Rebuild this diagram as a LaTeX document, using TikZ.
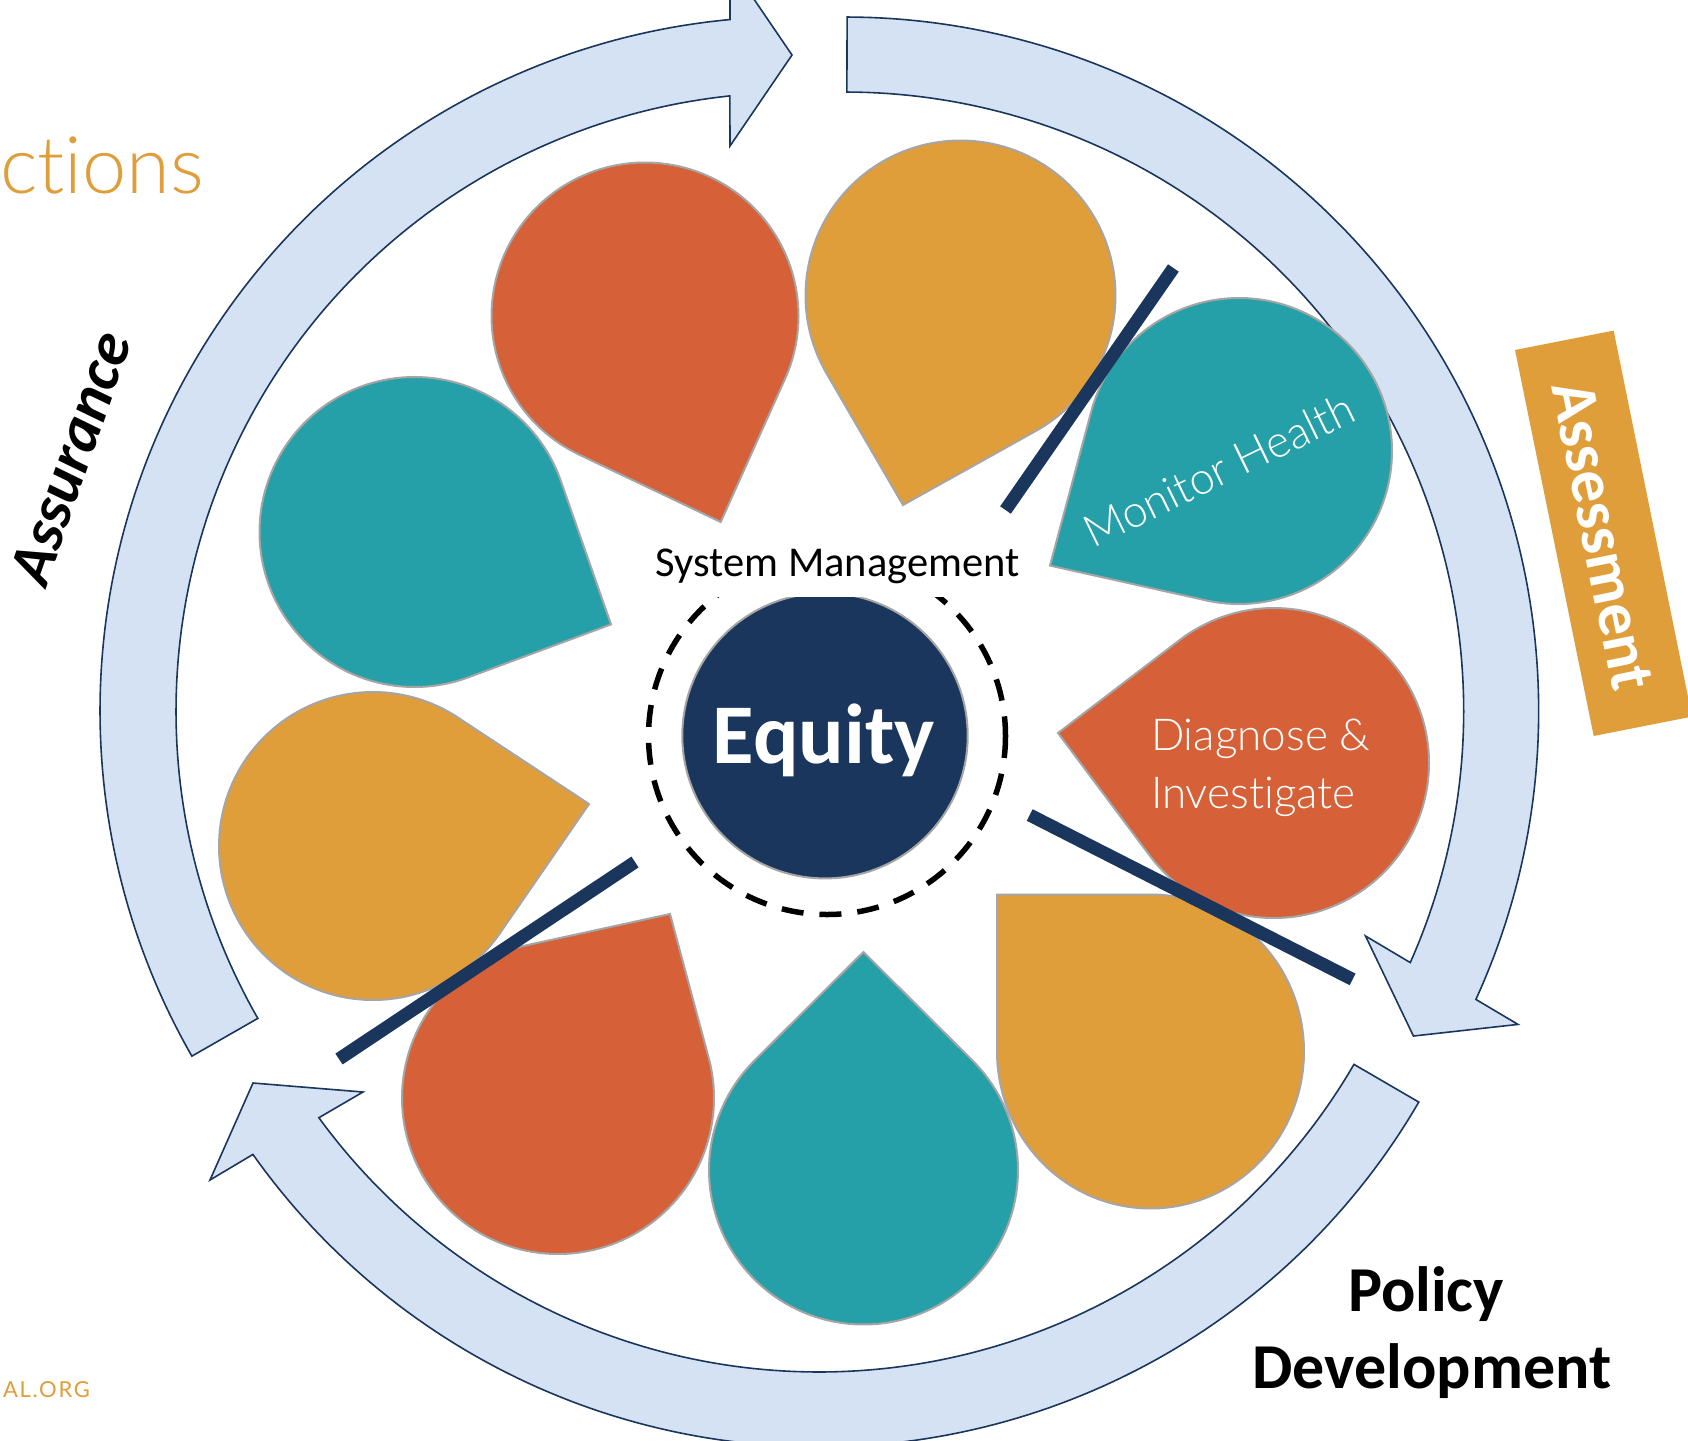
\documentclass[tikz,border=0pt]{standalone}
\usepackage{fontspec}
\setmainfont{Carlito}[Ligatures={NoCommon}]
\newfontfamily\lightfont{Lato Light}[Ligatures={NoCommon}]
\newfontfamily\latofont{Lato}[LetterSpace=8]
\definecolor{petalred}{HTML}{D66037}
\definecolor{petalyel}{HTML}{E09E3A}
\definecolor{petalteal}{HTML}{25A0A9}
\definecolor{navy}{HTML}{1A365D}
\definecolor{ringfill}{HTML}{D5E2F3}
\definecolor{petaledge}{HTML}{A5A5A5}
\tikzset{
  ringshape/.style={fill=ringfill,draw=navy,line width=1.6pt,line join=miter},
  petalshape/.style={draw=petaledge,line width=2pt,line join=miter},
  navybar/.style={draw=navy,line width=13pt},
  lbl/.style={inner sep=0pt,outer sep=0pt},
}
% centre cx cy, radius, tip x y
\newcommand{\petal}[6]{%
  \pgfmathsetmacro{\thetaP}{atan2(#6-#3,#5-#2)}%
  \pgfmathsetmacro{\aP}{\thetaP+45}%
  \pgfmathsetmacro{\bP}{\thetaP+315}%
  \path[petalshape,fill=#1] (#5,#6) -- plot[domain=\aP:\bP,samples=120,variable=\t] ({#2+#4*cos(\t)},{#3+#4*sin(\t)}) -- cycle;%
}
\begin{document}
\begin{tikzpicture}[x=1pt,y=-1pt]
\useasboundingbox (0,0) rectangle (1688,1440);
\clip (0,0) rectangle (1688,1440);
\fill[white] (0,0) rectangle (1688,1440);
% ring arrows
\path[ringshape] plot[domain=150.2:264.67,samples=120,variable=\t] ({794.5+694.5*cos(\t)},{711+694.5*sin(\t)}) -- (730,-36) -- (792,55) -- (730,146) -- plot[domain=264:150.2,samples=120,variable=\t] ({794.5+618.5*cos(\t)},{711+618.5*sin(\t)}) -- cycle;
\path[ringshape] plot[domain=-89.8:24.56,samples=120,variable=\t] ({844.7+694*cos(\t)},{711+694*sin(\t)}) -- (1518,1024.4) -- (1413.4,1036) -- (1365.5,936) -- plot[domain=23.98:-89.8,samples=120,variable=\t] ({844.7+619*cos(\t)},{711+619*sin(\t)}) -- cycle;
\path[ringshape] plot[domain=30.2:144.66,samples=120,variable=\t] ({819+694*cos(\t)},{753+694*sin(\t)}) -- (210,1180) -- (253,1083) -- (363,1092) -- plot[domain=143.9:30.2,samples=120,variable=\t] ({819+619*cos(\t)},{753+619*sin(\t)}) -- cycle;
% petals
\petal{petalred}{645}{316}{153.5}{720.7}{522}
\petal{petalyel}{960.5}{295.5}{155}{903}{505}
\petal{petalteal}{1239}{451}{153}{1050}{565.6}
\petal{petalred}{1274}{763}{155}{1058}{733}
\path[petalshape,fill=petalyel] (997,894.5) -- plot[domain=-90:180,samples=120,variable=\t] ({1150.5+153.5*cos(\t)},{1051.5+157*sin(\t)}) -- cycle;
\petal{petalteal}{863.5}{1170}{154.5}{863.4}{952}
\petal{petalred}{558}{1098}{156}{670}{914}
\petal{petalyel}{373}{846}{154}{589}{804}
\petal{petalteal}{414.5}{532}{155}{611}{624.4}
% centre
\draw[black,line width=5.5pt,dash pattern=on 22pt off 16pt] (827,736) circle[radius=178.5];
\path[petalshape,fill=navy] (825,735.7) circle[radius=142.7];
\node[lbl,text=white,font=\bfseries\fontsize{85}{85}\selectfont] (equity) at (824,740) {Equity};
% white label box hides the top of the circles
\fill[white] (650,530) rectangle (1015,597);
\node[lbl,anchor=base,font=\fontsize{42.5}{42.5}\selectfont] (sysm) at (837.5,576) {System Management};
% bars
\coordinate (b1a) at (1173.4,268); \coordinate (b1b) at (1005.5,510);
\coordinate (b2a) at (1029.7,815); \coordinate (b2b) at (1352.6,979.4);
\coordinate (b3a) at (635,862);    \coordinate (b3b) at (339,1059);
\draw[navybar] (b1a) -- (b1b);
\draw[navybar] (b2a) -- (b2b);
\draw[navybar] (b3a) -- (b3b);
% petal labels
\node[lbl,text=white,rotate=26,font=\lightfont\fontsize{44.6}{44.6}\selectfont] (mh) at (1219,470) {Monitor Health};
\node[lbl,anchor=base west,text=white,font=\lightfont\fontsize{44}{44}\selectfont] (dg) at (1151,750) {Diagnose \&};
\node[lbl,anchor=base west,text=white,font=\lightfont\fontsize{44}{44}\selectfont] (inv) at (1151,808) {Investigate};
% assessment tag
\path[fill=petalyel] (1515,350) -- (1613.6,330.6) -- (1692,716.6) -- (1593.7,736) -- cycle;
\node[lbl,text=white,rotate=-78.5,font=\bfseries\fontsize{64}{64}\selectfont] (assess) at (1602.5,536) {Assessment};
% outer labels
\node[lbl,rotate=71,font=\bfseries\itshape\fontsize{62}{62}\selectfont] (assur) at (70.5,458) {Assurance};
\node[lbl,font=\bfseries\fontsize{64}{64}\selectfont] (pol) at (1426,1294) {Policy};
\node[lbl,font=\bfseries\fontsize{64}{64}\selectfont] (dev) at (1432,1371) {Development};
\node[lbl,anchor=base west,text=petalyel,font=\lightfont\fontsize{79.5}{79.5}\selectfont] (ct) at (0,193) {ctions};
\node[lbl,anchor=base west,text=petalyel,font=\latofont\fontsize{22}{22}\selectfont] (org) at (3,1397) {AL.ORG};
\end{tikzpicture}
\end{document}
